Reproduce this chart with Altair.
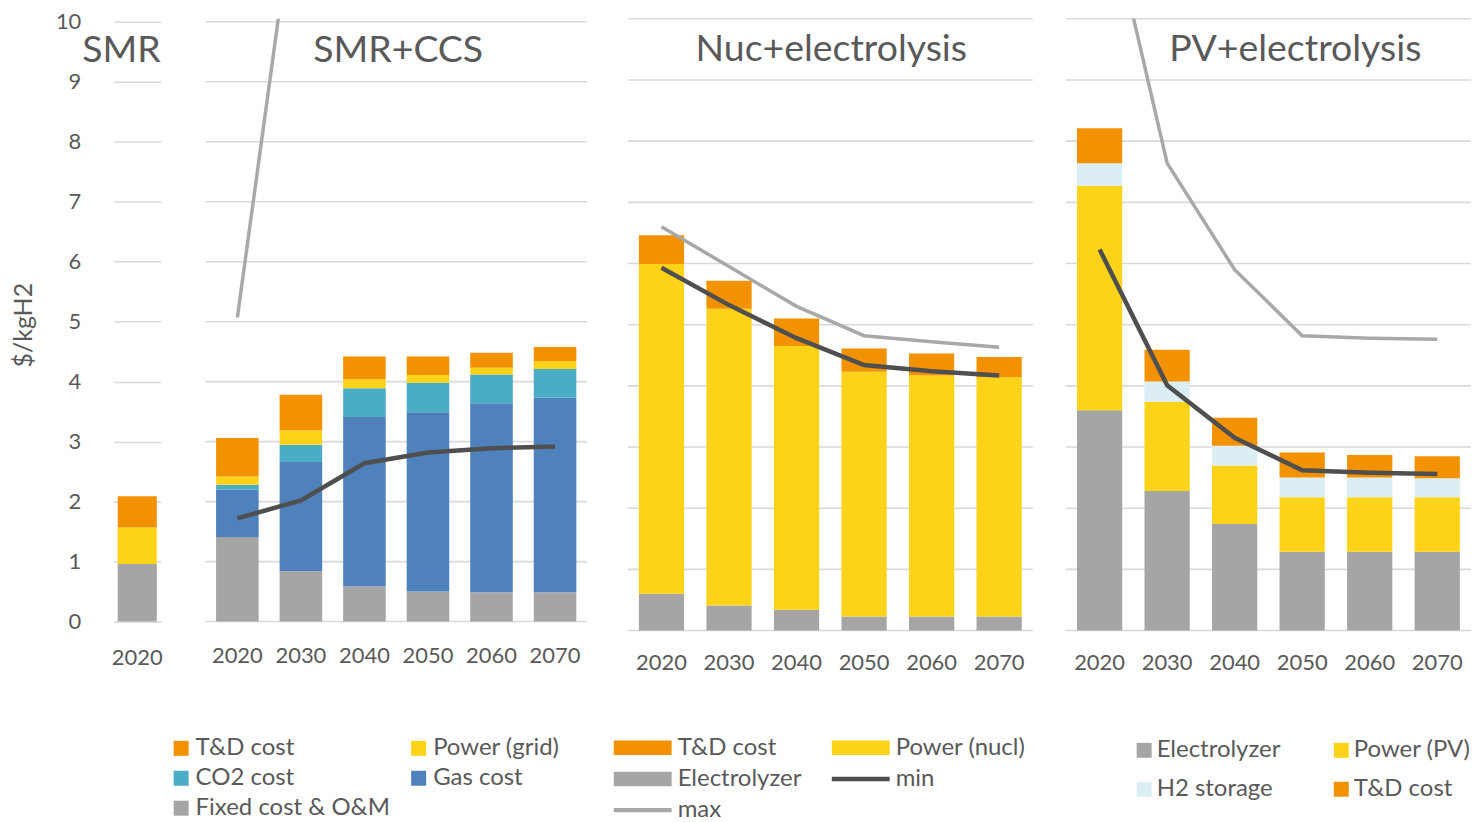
import altair as alt
import pandas as pd

# ---------------- data ----------------
years = ["2020", "2030", "2040", "2050", "2060", "2070"]
smr_years = ["2020"]
grid_values = [0, 1, 2, 3, 4, 5, 6, 7, 8, 9, 10]

panel_titles = ["SMR", "SMR+CCS", "Nuc+electrolysis", "PV+electrolysis"]

# SMR (2020 only)
smr_fixed = [0.96]
smr_power = [0.61]
smr_td = [0.52]

# SMR+CCS
ccs_fixed = [1.41, 0.84, 0.59, 0.50, 0.49, 0.49]
ccs_gas = [0.79, 1.82, 2.82, 2.99, 3.15, 3.24]
ccs_co2 = [0.08, 0.29, 0.48, 0.49, 0.48, 0.48]
ccs_power = [0.14, 0.24, 0.15, 0.13, 0.11, 0.13]
ccs_td = [0.64, 0.59, 0.38, 0.31, 0.25, 0.24]
ccs_min = [1.72, 2.02, 2.64, 2.82, 2.89, 2.92]
ccs_max_years = ["2020", "2030"]
ccs_max = [5.07, 12.8]

# Nuclear + electrolysis
nuc_elec = [0.60, 0.41, 0.34, 0.23, 0.23, 0.23]
nuc_power = [5.39, 4.85, 4.31, 4.00, 3.94, 3.91]
nuc_td = [0.47, 0.46, 0.45, 0.38, 0.36, 0.33]
nuc_min = [5.93, 5.32, 4.78, 4.34, 4.24, 4.17]
nuc_max = [6.60, 5.95, 5.30, 4.82, 4.72, 4.63]

# PV + electrolysis
pv_elec = [3.60, 2.28, 1.74, 1.29, 1.29, 1.29]
pv_power = [3.67, 1.46, 0.96, 0.89, 0.89, 0.89]
pv_h2 = [0.37, 0.33, 0.32, 0.32, 0.32, 0.31]
pv_td = [0.57, 0.52, 0.46, 0.41, 0.37, 0.36]
pv_min = [6.23, 4.01, 3.15, 2.62, 2.58, 2.56]
pv_max = [12.4, 7.64, 5.90, 4.82, 4.78, 4.76]

# legend labels
smr_legend = ["T&D cost", "Power (grid)", "CO2 cost", "Gas cost", "Fixed cost & O&M"]
nuc_legend = ["T&D cost", "Power (nucl)", "Electrolyzer", "min", "max"]
pv_legend = ["Electrolyzer", "Power (PV)", "H2 storage", "T&D cost"]

# ---------------- styles ----------------
FONT = "Lato"
TXT = "#595959"
GRID = "#D9D9D9"
C_TD = "#F39200"
C_POW = "#FDD319"
C_CO2 = "#4BACC6"
C_GAS = "#4F81BD"
C_GRAY = "#A5A5A5"
C_H2 = "#DAEEF3"
C_MIN = "#4F4F4F"
C_MAX = "#A8A8A8"

FS = 22
LFS = 24
TFS = 37.5
H = 613

RECT = "M-2,-0.5H2V0.5H-2Z"
LINE = "M-2,-0.15H2V0.15H-2Z"


def stack_df(yrs, comps):
    rows = []
    for k, (name, vals) in enumerate(comps):
        for y, v in zip(yrs, vals):
            rows.append({"year": y, "comp": name, "value": v, "k": k})
    return pd.DataFrame(rows)


yaxis_main = alt.Axis(title="$/kgH2", orient="left", titleFontSize=25, titleFontWeight="normal",
                      titleColor=TXT, titleFont=FONT, titlePadding=19, labelFontSize=FS,
                      labelColor=TXT, labelFont=FONT, labelPadding=33, ticks=False, domain=False,
                      grid=True, values=grid_values, gridColor=GRID, gridWidth=1.6)
xaxis_main = alt.Axis(title=None, orient="bottom", labelAngle=0, ticks=False, domain=False,
                      grid=False, labelPadding=17, labelFontSize=FS, labelColor=TXT,
                      labelFont=FONT)


def legend_layers(labels, colors, shapes, size, x0, colgap, y0, rowgap, dx):
    """Legend laid out in two columns; pixel positions derived from the entry index."""
    n = len(labels)
    df = pd.DataFrame({
        "label": labels,
        "shape": shapes,
        "px": [x0 + (i % 2) * colgap for i in range(n)],
        "py": [y0 + (i // 2) * rowgap for i in range(n)],
    })
    xe = alt.X("px:Q", scale=None, axis=None)
    ye = alt.Y("py:Q", scale=None, axis=None)
    fs = alt.Scale(domain=labels, range=colors)
    layers = []
    for shp in dict.fromkeys(shapes):
        sub = df[df["shape"] == shp]
        layers.append(
            alt.Chart(sub).mark_point(shape=shp, filled=True, size=size, opacity=1,
                                      strokeWidth=0).encode(
                x=xe, y=ye, fill=alt.Fill("label:N", scale=fs, legend=None))
        )
    layers.append(
        alt.Chart(df).mark_text(align="left", baseline="middle", dx=dx, fontSize=LFS, color=TXT,
                                font=FONT).encode(x=xe, y=ye, text="label:N")
    )
    return layers


def panel(yrs, comps, colors, width, xscale, yscale, title, tx, ty, talign,
          lines=(), legend=(), main_axes=False, label_y=640):
    df = stack_df(yrs, comps)
    domain = [c[0] for c in comps]
    layers = []
    if main_axes:
        xax, yax = xaxis_main, yaxis_main
    else:
        xax, yax = None, None
        # horizontal gridlines on the panel's own y scale
        gdf = pd.DataFrame({"g": grid_values})
        layers.append(
            alt.Chart(gdf).mark_rule(color=GRID, strokeWidth=1.6).encode(
                y=alt.Y("g:Q", scale=yscale, axis=None),
                x=alt.value(0), x2=alt.value(width))
        )
        # category labels on the panel's own x scale
        ydf = pd.DataFrame({"year": yrs})
        layers.append(
            alt.Chart(ydf).mark_text(baseline="middle", fontSize=FS, color=TXT, font=FONT).encode(
                x=alt.X("year:N", sort=yrs, scale=xscale, axis=None),
                y=alt.value(label_y), text="year:N")
        )
    bars = alt.Chart(df).mark_bar().encode(
        x=alt.X("year:N", sort=yrs, scale=xscale, axis=xax),
        y=alt.Y("value:Q", stack="zero", scale=yscale, axis=yax),
        color=alt.Color("comp:N", scale=alt.Scale(domain=domain, range=colors), legend=None),
        order=alt.Order("k:Q", sort="ascending"),
    )
    layers.append(bars)
    for lyrs, vals, col, sw in lines:
        ldf = pd.DataFrame({"year": lyrs, "v": vals})
        layers.append(
            alt.Chart(ldf).mark_line(color=col, strokeWidth=sw, clip=True).encode(
                x=alt.X("year:N", sort=yrs, scale=xscale, axis=None),
                y=alt.Y("v:Q", scale=yscale, axis=None),
            )
        )
    tdf = pd.DataFrame({"t": [title]})
    layers.append(
        alt.Chart(tdf).mark_text(align=talign, baseline="middle", fontSize=TFS, color=TXT,
                                 font=FONT).encode(
            x=alt.value(tx), y=alt.value(ty), text="t:N")
    )
    layers.extend(legend)
    return alt.layer(*layers).properties(width=width, height=H)


def spacer(w):
    d = pd.DataFrame({"a": [0]})
    return alt.Chart(d).mark_point(opacity=0).encode(
        x=alt.X("a:Q", axis=None), y=alt.Y("a:Q", axis=None)).properties(width=w, height=H)


ys_smr = alt.Scale(domain=[-0.15, 10.05], nice=False, zero=False)
ys_el = alt.Scale(domain=[0, 10], nice=False, zero=False)
xs_one = alt.Scale(domain=smr_years, paddingInner=0, paddingOuter=0.1)
xs_six = alt.Scale(type="band", domain=years, paddingInner=0.33, paddingOuter=0.165)

leg_smr = legend_layers(smr_legend, [C_TD, C_POW, C_CO2, C_GAS, C_GRAY],
                        ["square"] * 5, 225, -24.5, 238, 731, 30, 14.5)
leg_nuc = legend_layers(nuc_legend, [C_TD, C_POW, C_GRAY, C_MIN, C_MAX],
                        [RECT, RECT, RECT, LINE, LINE], 841, 15, 218.5, 730.5, 31.25, 35)
leg_pv = legend_layers(pv_legend, [C_GRAY, C_POW, C_H2, C_TD],
                       ["square"] * 4, 225, 78.5, 197.5, 733, 39, 12.5)

p_smr = panel(smr_years,
              [("Fixed cost & O&M", smr_fixed), ("Power (grid)", smr_power), ("T&D cost", smr_td)],
              [C_GRAY, C_POW, C_TD], 47, xs_one, ys_smr,
              panel_titles[0], 47, 32, "right", main_axes=True)

p_ccs = panel(years,
              [("Fixed cost & O&M", ccs_fixed), ("Gas cost", ccs_gas), ("CO2 cost", ccs_co2),
               ("Power (grid)", ccs_power), ("T&D cost", ccs_td)],
              [C_GRAY, C_GAS, C_CO2, C_POW, C_TD], 382, xs_six, ys_smr,
              panel_titles[1], 193, 32, "center",
              lines=[(ccs_max_years, ccs_max, C_MAX, 3.5), (years, ccs_min, C_MIN, 4.5)],
              legend=leg_smr, label_y=639)

p_nuc = panel(years,
              [("Electrolyzer", nuc_elec), ("Power (nucl)", nuc_power), ("T&D cost", nuc_td)],
              [C_GRAY, C_POW, C_TD], 406, xs_six, ys_el,
              panel_titles[2], 204, 31, "center",
              lines=[(years, nuc_max, C_MAX, 3.5), (years, nuc_min, C_MIN, 4.5)],
              legend=leg_nuc, label_y=646)

p_pv = panel(years,
             [("Electrolyzer", pv_elec), ("Power (PV)", pv_power), ("H2 storage", pv_h2),
              ("T&D cost", pv_td)],
             [C_GRAY, C_POW, C_H2, C_TD], 406, xs_six, ys_el,
             panel_titles[3], 230, 31, "center",
             lines=[(years, pv_max, C_MAX, 3.5), (years, pv_min, C_MIN, 4.5)],
             legend=leg_pv, label_y=646)

# ---------------- layout ----------------
chart = alt.hconcat(
    p_smr, spacer(45), p_ccs, spacer(41), p_nuc, spacer(33), p_pv,
    spacing=0, bounds="flush"
).resolve_scale(color="independent", fill="independent").properties(
    padding={"left": 3, "top": 2, "right": 0, "bottom": 0}
).configure(font=FONT).configure_view(stroke=None)

chart.save("out.html", embed_options={"renderer": "svg", "actions": False})
